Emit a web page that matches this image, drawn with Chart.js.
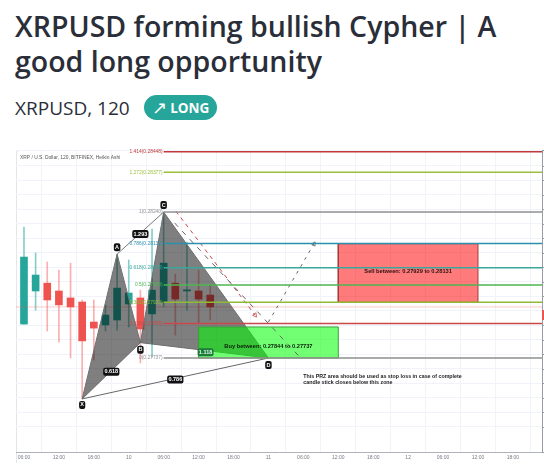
<!DOCTYPE html>
<html>
<head>
<meta charset="utf-8">
<title>XRPUSD forming bullish Cypher</title>
<script src="https://cdn.jsdelivr.net/npm/chart.js@4"></script>
<style>
	html, body { margin: 0; padding: 0; background: #fff; overflow: hidden; }
	body { width: 544px; height: 470px; position: relative; font-family: "Open Sans", sans-serif; color: #2a2e39; }
	h1 { position: absolute; left: 15px; top: 9px; width: 525px; margin: 0; font-size: 28.5px; line-height: 35px; font-weight: 600; }
	.sub { position: absolute; left: 15px; top: 94px; font-size: 19px; line-height: 28px; }
	.badge { position: absolute; left: 144px; top: 95px; width: 73px; height: 25px; line-height: 25px; border-radius: 13px; background: #26a69a; color: #fff; font-size: 13.5px; font-weight: 700; text-align: center; }
	.badge span { font-size: 18px; font-weight: 400; vertical-align: -1px; }
	.frame { position: absolute; left: 16px; top: 150px; width: 526px; height: 312px; border-left: 1px solid #e3e5ea; border-top: 1px solid #e3e5ea; border-top-left-radius: 3px; }
	.plot { position: absolute; left: 16px; top: 140px; width: 528px; height: 330px; }
	canvas { display: block; filter: blur(0.45px); }
</style>
</head>
<body>
<h1>XRPUSD forming bullish Cypher | A good long opportunity</h1>
<div class="sub">XRPUSD, 120</div>
<div class="badge"><span>↗</span> LONG</div>
<div class="frame"></div>
<div class="plot"><canvas id="chart" width="528" height="330"></canvas></div>
<script>
// candles, x is hours from the start of the first day
const candleHours = [6, 8, 10, 12, 14, 16, 18, 20, 22, 24, 26, 28, 30, 32, 34, 36, 38];
const opens = [0.27854, 0.27968, 0.27995, 0.27968, 0.27944, 0.2793, 0.27861, 0.27851, 0.27868, 0.27923, 0.27944, 0.27889, 0.2793, 0.27995, 0.27968, 0.27968, 0.27954];
const closes = [0.28085, 0.28023, 0.27937, 0.2792, 0.27913, 0.27796, 0.2784, 0.27885, 0.27978, 0.27961, 0.27837, 0.27971, 0.28064, 0.2794, 0.27972, 0.2794, 0.27913];
const highs = [0.28188, 0.28099, 0.28068, 0.2804, 0.28064, 0.27937, 0.27937, 0.2792, 0.28095, 0.28075, 0.27971, 0.28181, 0.2824, 0.28026, 0.28137, 0.2804, 0.27988];
const lows = [0.27854, 0.27902, 0.2783, 0.27792, 0.27737, 0.27596, 0.2773, 0.2783, 0.27833, 0.27844, 0.2772, 0.2774, 0.27913, 0.27816, 0.27902, 0.27858, 0.27868];

const tickHours = [6, 12, 18, 24, 30, 36, 42, 48, 54, 60, 66, 72, 78, 84, 90];
const tickLabels = ["06:00", "12:00", "18:00", "10", "06:00", "12:00", "18:00", "11", "06:00", "12:00", "18:00", "12", "06:00", "12:00", "18:00"];

// harmonic pattern pivots
const pivotNames = ["X", "A", "B", "C", "D"];
const pivotHours = [16, 22, 26, 30, 48];
const pivotPrices = [0.27596, 0.28095, 0.2779, 0.2824, 0.27737];

// fib levels
const fibRatios = ["1.414", "1.272", "1", "0.786", "0.618", "0.5", "0.382", "0.236", "0"];
const fibPrices = [0.28448, 0.28377, 0.2824, 0.28132, 0.28048, 0.27989, 0.27929, 0.27856, 0.27737];
const fibColors = ["#c0393b", "#9bbf3c", "#8f8f8f", "#2b8fae", "#3aa79c", "#4cb64f", "#8dbb35", "#c9484a", "#8f8f8f"];
const fibStart = 30;
const lastPrice = 0.27913;
const priceTag = 0.27885;

// sell and buy zones
const sellHours = [60, 84];
const sellPrices = [0.27929, 0.28131];
const buyHours = [36, 60];
const buyPrices = [0.27737, 0.27844];

const xMin = 4.63;
const xMax = 95;

const line = (points, opts) => ({
	type: "line",
	data: points,
	pointRadius: 0,
	borderWidth: 1,
	...opts,
});

const pivot = i => ({ x: pivotHours[i], y: pivotPrices[i] });
const box = (h, p) => [
	{ x: h[0], y: p[0] },
	{ x: h[1], y: p[0] },
	{ x: h[1], y: p[1] },
	{ x: h[0], y: p[1] },
	{ x: h[0], y: p[0] },
];

const isUp = i => closes[i] >= opens[i];

const arrowEnd = (color, rotation) => ({
	pointRadius: [0, 2.5],
	pointStyle: "triangle",
	rotation,
	pointBackgroundColor: "rgba(0,0,0,0)",
	pointBorderColor: color,
	pointBorderWidth: 0.8,
});

const datasets = [
	// body and wick, bottom layer
	{
		type: "bar",
		grouped: false,
		order: 90,
		barThickness: 1,
		data: candleHours.map((h, i) => ({ x: h, y: [lows[i], highs[i]] })),
		backgroundColor: candleHours.map((h, i) => (isUp(i) ? "rgba(38,166,154,.55)" : "rgba(239,83,80,.45)")),
	},
	{
		type: "bar",
		grouped: false,
		order: 89,
		barThickness: 7,
		minBarLength: 1,
		data: candleHours.map((h, i) => ({ x: h, y: [opens[i], closes[i]] })),
		backgroundColor: candleHours.map((h, i) => (isUp(i) ? "#26a69a" : "#ef5350")),
	},
	line([{ x: xMin, y: lastPrice }, { x: xMax, y: lastPrice }], { order: 88, borderColor: "rgba(239,83,80,.3)" }),
	// triangles
	line([pivot(0), pivot(1), pivot(2), pivot(0)], { order: 70, fill: "shape", backgroundColor: "rgba(0,0,0,.5)", borderColor: "#6f6f6f" }),
	line([pivot(2), pivot(3), pivot(4), pivot(2)], { order: 69, fill: "shape", backgroundColor: "rgba(0,0,0,.5)", borderColor: "#6f6f6f" }),
	line([pivot(1), pivot(3)], { order: 68, borderColor: "#777" }),
	line([pivot(0), pivot(4)], { order: 67, borderColor: "#666" }),
	// zones, buy zone tints the triangle
	line(box(sellHours, sellPrices), { order: 60, fill: "shape", backgroundColor: "rgba(255,0,0,.52)", borderColor: "#a33a3a" }),
	line(box(buyHours, buyPrices), { order: 59, fill: "shape", backgroundColor: "rgba(0,255,0,.55)", borderColor: "#3c9f3c" }),
	// dashed projections
	line([{ x: 32.1, y: 0.28243 }, { x: 45.7, y: 0.27885 }], { order: 56, borderColor: "#c84a4a", borderDash: [4, 4], ...arrowEnd("#c84a4a", 143) }),
	line([{ x: 31.9, y: 0.28202 }, { x: 53.4, y: 0.2774 }], { order: 55, borderColor: "#666", borderDash: [5, 6] }),
	line([{ x: 48, y: 0.27861 }, { x: 55.8, y: 0.2813 }], { order: 54, borderColor: "#666", borderDash: [3, 5], ...arrowEnd("#666", 30) }),
];

// fib lines sit over the triangles
fibPrices.forEach((p, i) => {
	datasets.push(
		line([{ x: fibStart, y: p }, { x: xMax, y: p }], {
			order: 40 - i,
			borderColor: fibColors[i],
			borderWidth: 1.5,
		})
	);
});

// fib labels, pattern badges, notes
const labelsPlugin = {
	id: "labelsPlugin",
	afterDatasetsDraw(chart) {
		const {
			ctx,
			chartArea,
			scales: { x, y },
		} = chart;

		const badge = (text, px, py, bg = "#111", fg = "#fff") => {
			ctx.font = "bold 5.5px 'Liberation Sans'";
			const w = ctx.measureText(text).width + 2.5;
			ctx.fillStyle = bg;
			ctx.beginPath();
			ctx.roundRect(px - w / 2, py - 4, w, 8, 2);
			ctx.fill();
			ctx.fillStyle = fg;
			ctx.textAlign = "center";
			ctx.textBaseline = "middle";
			ctx.fillText(text, px, py);
		};

		const text = (str, px, py, color, align, font) => {
			ctx.font = font;
			ctx.fillStyle = color;
			ctx.textAlign = align;
			ctx.textBaseline = "middle";
			ctx.fillText(str, px, py);
		};

		ctx.save();
		text("XRP / U.S. Dollar, 120, BITFINEX, Heikin Ashi", 4, 18, "#555", "left", "4.9px 'Liberation Sans'");

		fibRatios.forEach((r, i) => {
			text(r + "(" + fibPrices[i].toFixed(5) + ")", x.getPixelForValue(fibStart) - 1, y.getPixelForValue(fibPrices[i]), fibColors[i], "right", "4.9px 'Liberation Sans'");
		});

		// pivot letters, above or below the point
		const pivotOffset = [6, -7, 7, -7, 7];
		pivotNames.forEach((n, i) => {
			badge(n, x.getPixelForValue(pivotHours[i]), y.getPixelForValue(pivotPrices[i]) + pivotOffset[i]);
		});

		// ratios on the legs
		const mid = (a, b) => [
			x.getPixelForValue((pivotHours[a] + pivotHours[b]) / 2),
			y.getPixelForValue((pivotPrices[a] + pivotPrices[b]) / 2) + 1,
		];
		badge("0.618", ...mid(0, 2));
		badge("1.293", ...mid(1, 3));
		badge("0.786", ...mid(0, 4));
		badge("1.118", x.getPixelForValue(37.2), y.getPixelForValue(0.27757), "#1f7a3c", "#d8ffe0");

		text("Sell between: 0.27929 to 0.28131", x.getPixelForValue(72), y.getPixelForValue(0.28035), "#301010", "center", "bold 5.7px 'Liberation Sans'");
		text("Buy between: 0.27844 to 0.27737", x.getPixelForValue(48), y.getPixelForValue(0.27776), "#0a200a", "center", "bold 5.7px 'Liberation Sans'");
		text("This PRZ area should be used as stop loss in case of complete", x.getPixelForValue(54), y.getPixelForValue(0.27672), "#222", "left", "bold 5.3px 'Liberation Sans'");
		text("candle stick closes below this zone", x.getPixelForValue(54), y.getPixelForValue(0.27651), "#222", "left", "bold 5.3px 'Liberation Sans'");

		// axis tick marks on the cut off price scale
		ctx.strokeStyle = "#9a9da5";
		ctx.lineWidth = 1;
		y.ticks.forEach(t => {
			const py = Math.round(y.getPixelForValue(t.value)) + 0.5;
			ctx.beginPath();
			ctx.moveTo(chartArea.right, py);
			ctx.lineTo(chartArea.right + 2, py);
			ctx.stroke();
		});

		// last price tag, cut off by the edge of the picture
		ctx.fillStyle = "#ef5350";
		ctx.fillRect(chartArea.right, y.getPixelForValue(priceTag) - 5, 2, 10);
		ctx.restore();
	},
};

new Chart(document.getElementById("chart"), {
	type: "bar",
	plugins: [labelsPlugin],
	data: { datasets },
	options: {
		responsive: false,
		animation: false,
		layout: { autoPadding: false, padding: { left: 0, right: 2, top: 10, bottom: 0 } },
		plugins: {
			legend: { display: false },
			tooltip: { enabled: false },
			title: { display: false },
		},
		scales: {
			x: {
				type: "linear",
				offset: false,
				min: xMin,
				max: xMax,
				afterBuildTicks(scale) {
					scale.ticks = tickHours.map(v => ({ value: v }));
				},
				afterFit(scale) {
					scale.height = 18;
					scale.paddingLeft = 0;
					scale.paddingRight = 0;
				},
				grid: { color: "#f0f3fa", drawTicks: false },
				border: { color: "#b0b3ba" },
				ticks: {
					autoSkip: false,
					maxRotation: 0,
					padding: 3,
					color: "#787b86",
					font: { size: 5, family: "'Liberation Sans'" },
					callback: v => tickLabels[tickHours.indexOf(v)],
				},
			},
			y: {
				position: "right",
				min: 0.27413,
				max: 0.28454,
				afterFit(scale) {
					scale.width = 0;
				},
				grid: { color: "#f0f3fa", drawTicks: false },
				border: { color: "#9a9da5" },
				ticks: { display: false, stepSize: 0.0005 },
			},
		},
	},
});
</script>
</body>
</html>
